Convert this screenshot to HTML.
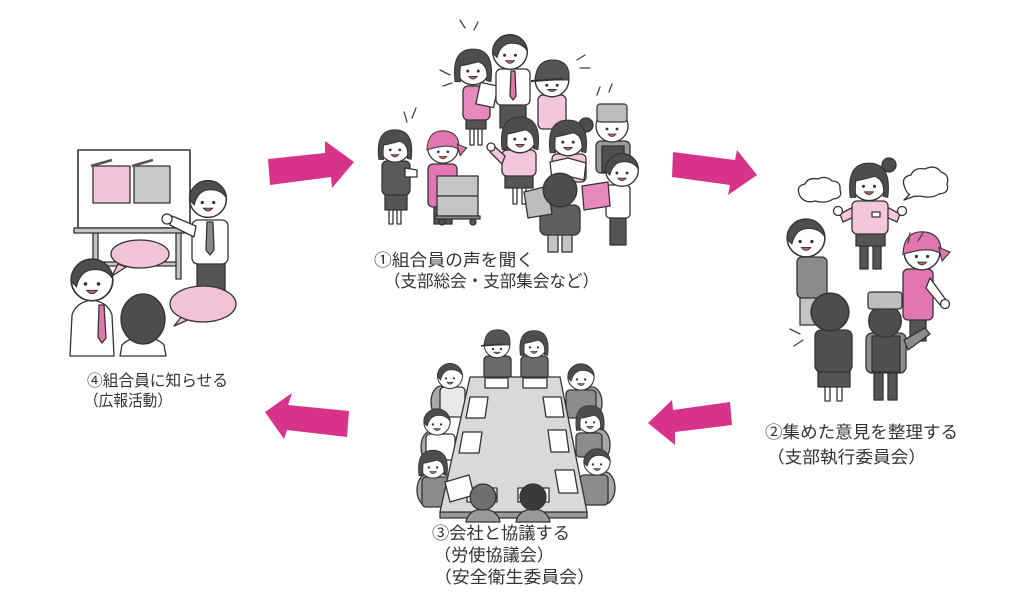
<!DOCTYPE html>
<html><head><meta charset="utf-8"><style>
html,body{margin:0;padding:0;background:#fff;}
svg{display:block;}
text{font-family:"Noto Sans CJK JP","Liberation Sans",sans-serif;fill:#333;}
.o{stroke:#333;stroke-width:1.3;stroke-linejoin:round;}
.t{stroke:#444;stroke-width:1.3;fill:none;stroke-linecap:round;}
</style></head><body>
<svg width="1024" height="602" viewBox="0 0 1024 602" xmlns="http://www.w3.org/2000/svg">
<defs>
 <g id="hm">
  <circle r="16" fill="#fff" stroke="#333" stroke-width="1.3"/>
  <path d="M-16,1 A16,16 0 0 1 16,-1 Q11,-9 0,-8 Q-9,-7 -12,5 Z" fill="#4d4d4d" stroke="#333" stroke-width="1"/>
  <circle cx="-5" cy="3" r="1.4" fill="#333"/><circle cx="5" cy="3" r="1.4" fill="#333"/>
  <path d="M-4,8 Q0,13 4,8 Z" fill="#c66" stroke="#333" stroke-width="0.8"/>
 </g>
 <g id="hf">
  <circle r="16" fill="#fff" stroke="#333" stroke-width="1.3"/>
  <path d="M-17,13 Q-21,-18 0,-18 Q21,-18 17,13 L13,12 Q15,-3 5,-6 Q-6,-3 -12,-2 Q-13,6 -12,13 Z" fill="#4d4d4d" stroke="#333" stroke-width="1"/>
  <circle cx="-5" cy="3" r="1.4" fill="#333"/><circle cx="5" cy="3" r="1.4" fill="#333"/>
  <path d="M-4,8 Q0,13 4,8 Z" fill="#c66" stroke="#333" stroke-width="0.8"/>
 </g>
 <g id="hp">
  <circle r="16" fill="#fff" stroke="#333" stroke-width="1.3"/>
  <path d="M-17,2 Q-16,-19 1,-18 Q18,-17 17,2 Q8,-6 -17,2 Z" fill="#e276b0" stroke="#333" stroke-width="1"/>
  <path d="M15,-4 L25,0 L18,8 Z" fill="#e276b0" stroke="#333" stroke-width="1"/>
  <circle cx="-5" cy="4" r="1.4" fill="#333"/><circle cx="5" cy="4" r="1.4" fill="#333"/>
  <path d="M-4,9 Q0,14 4,9 Z" fill="#c66" stroke="#333" stroke-width="0.8"/>
 </g>
 <g id="hc">
  <circle r="16" fill="#fff" stroke="#333" stroke-width="1.3"/>
  <path d="M-16,0 Q-15,-20 2,-19 Q18,-18 16,0 Z" fill="#555" stroke="#333" stroke-width="1"/>
  <path d="M-20,1 L10,-1" stroke="#333" stroke-width="2"/>
  <circle cx="-5" cy="5" r="1.4" fill="#333"/><circle cx="5" cy="5" r="1.4" fill="#333"/>
  <path d="M-4,9 Q0,13 4,9 Z" fill="#c66" stroke="#333" stroke-width="0.8"/>
 </g>
 <g id="hk">
  <circle r="16" fill="#fff" stroke="#333" stroke-width="1.3"/>
  <rect x="-15" y="-22" width="30" height="18" rx="3" fill="#bdbdbd" stroke="#333" stroke-width="1.2"/>
  <circle cx="-5" cy="3" r="1.4" fill="#333"/><circle cx="5" cy="3" r="1.4" fill="#333"/>
  <path d="M-4,8 Q0,13 4,8 Z" fill="#c66" stroke="#333" stroke-width="0.8"/>
 </g>
 <g id="hb">
  <circle r="16" fill="#4d4d4d" stroke="#333" stroke-width="1.3"/>
 </g>
</defs>

<!-- ===== Arrows ===== -->
<g fill="#d8338b">
 <polygon points="268,159 325,153 325,141 354,162 332,188 331,177 270,185"/>
 <polygon points="673,152 735,160 737,150 757,175 728,195 730,185 672,177"/>
 <polygon points="648,423 672,400 673,410 730,402 732,425 675,432 675,445"/>
 <polygon points="265,412 292,393 288,405 349,411 347,437 287,430 284,439"/>
</g>

<!-- ===== Scene 4 (left) ===== -->
<g class="o">
 <rect x="78" y="150" width="112" height="78" fill="#fff" stroke-width="1.6"/>
 <rect x="93" y="166" width="37" height="37" fill="#f2c3d6"/>
 <rect x="134" y="166" width="36" height="37" fill="#c9c9c9"/>
 <rect x="93" y="233" width="5" height="50" fill="#c4c4c4"/>
 <rect x="176" y="233" width="5" height="46" fill="#c4c4c4"/>
 <rect x="98" y="262" width="78" height="4" fill="#c4c4c4"/>
 <rect x="74" y="228" width="124" height="5" fill="#c4c4c4"/>
</g>
<path d="M91,166 L112,160 M132,166 L153,160" stroke="#555" stroke-width="2.5"/>
<g class="o">
 <rect x="197" y="262" width="28" height="32" fill="#555"/>
 <rect x="192" y="220" width="36" height="44" rx="6" fill="#fff"/>
 <polygon points="196,226 172,216 170,225 194,237" fill="#fff"/>
 <circle cx="167" cy="219" r="5" fill="#fff"/>
 <polygon points="207,222 213,222 214,250 210,255 206,250" fill="#888"/>
</g>
<use href="#hm" transform="translate(208,199) scale(1.15)"/>
<g class="o" fill="#f2c3d6">
 <path d="M118,264 L112,276 L126,267 Z"/>
 <ellipse cx="140" cy="254" rx="29" ry="14"/>
 <path d="M182,316 L174,326 L190,319 Z"/>
 <ellipse cx="203" cy="304" rx="33" ry="18"/>
</g>
<g class="o">
 <path d="M70,356 L72,315 Q76,302 92,300 Q108,302 112,315 L114,356 Z" fill="#fff"/>
 <polygon points="99,305 104,305 106,338 102,343 98,337" fill="#e276b0"/>
</g>
<use href="#hm" transform="translate(92,280) scale(1.3)"/>
<g class="o">
 <path d="M120,356 L122,345 Q128,338 143,337 Q158,338 164,345 L166,356 Z" fill="#fff"/>
 <ellipse cx="143" cy="319" rx="22" ry="25" fill="#4d4d4d"/>
</g>

<!-- ===== Scene 1 (top center) ===== -->
<g class="o">
 <!-- D -->
 <rect x="470" y="125" width="4" height="20" fill="#fff"/><rect x="478" y="125" width="4" height="20" fill="#fff"/>
 <rect x="466" y="117" width="20" height="12" fill="#555"/>
 <rect x="463" y="86" width="27" height="34" rx="5" fill="#e889bb"/>
 <rect x="478" y="84" width="18" height="22" fill="#fff" transform="rotate(12 487 95)"/>
 <!-- E -->
 <rect x="500" y="102" width="26" height="26" fill="#555"/>
 <rect x="496" y="69" width="34" height="36" rx="5" fill="#fff"/>
 <polygon points="511,71 515,71 516,96 513,100 510,96" fill="#e276b0"/>
 <!-- F -->
 <rect x="538" y="95" width="28" height="34" rx="5" fill="#f4c6da"/>
</g>
<use href="#hf" transform="translate(473,68) scale(1.05)"/>
<use href="#hm" transform="translate(510,52) scale(1.08)"/>
<use href="#hc" transform="translate(552,80) scale(1.05)"/>
<g class="o">
 <!-- I cook -->
 <rect x="596" y="141" width="34" height="32" rx="5" fill="#9a9a9a"/>
 <rect x="602" y="146" width="22" height="26" fill="#4f4f4f"/>
 <!-- G -->
 <rect x="513" y="186" width="4" height="18" fill="#fff"/><rect x="522" y="186" width="4" height="18" fill="#fff"/>
 <rect x="505" y="172" width="28" height="16" fill="#555"/>
 <rect x="502" y="150" width="34" height="26" rx="5" fill="#f4c6da"/>
 <polygon points="505,156 494,146 490,152 502,164" fill="#f4c6da"/>
 <circle cx="491" cy="147" r="4" fill="#fff"/>
 <!-- H -->
 <rect x="552" y="154" width="34" height="28" rx="5" fill="#f4c6da"/>
 <polygon points="550,162 568,158 586,163 584,180 567,176 552,180" fill="#fff"/>
 <circle cx="586" cy="125" r="7" fill="#4d4d4d"/>
</g>
<use href="#hk" transform="translate(612,126) scale(1)"/>
<use href="#hf" transform="translate(520,136) scale(1.05)"/>
<use href="#hf" transform="translate(568,139) scale(1.05)"/>
<g class="o">
 <!-- A woman left -->
 <rect x="389" y="208" width="4" height="16" fill="#fff"/><rect x="397" y="208" width="4" height="16" fill="#fff"/>
 <rect x="385" y="192" width="22" height="18" fill="#555"/>
 <rect x="382" y="161" width="28" height="34" rx="5" fill="#5a5a5a"/>
 <polygon points="405,168 417,170 417,177 405,177" fill="#fff"/>
 <!-- B bandana -->
 <rect x="434" y="204" width="7" height="20" fill="#555"/><rect x="445" y="204" width="7" height="20" fill="#555"/>
 <rect x="428" y="164" width="29" height="43" rx="5" fill="#e276b0"/>
 <!-- cart -->
 <rect x="437" y="176" width="41" height="20" fill="#c4c4c4"/>
 <rect x="437" y="196" width="41" height="20" fill="#c4c4c4"/>
 <rect x="435" y="216" width="45" height="3" fill="#888"/>
 <circle cx="442" cy="222" r="3" fill="#555"/><circle cx="473" cy="222" r="3" fill="#555"/>
</g>
<use href="#hf" transform="translate(395,147) scale(0.95)"/>
<use href="#hp" transform="translate(443,148) scale(0.95)"/>
<g class="o">
 <!-- J back man -->
 <rect x="548" y="232" width="10" height="20" fill="#c4c4c4"/><rect x="562" y="232" width="10" height="20" fill="#c4c4c4"/>
 <rect x="540" y="205" width="40" height="30" rx="6" fill="#5f5f5f"/>
 <polygon points="524,192 548,186 552,214 528,218" fill="#bdbdbd"/>
 <!-- K right man -->
 <rect x="610" y="215" width="16" height="30" fill="#555"/>
 <rect x="606" y="185" width="24" height="33" rx="4" fill="#fff"/>
 <polygon points="582,186 608,182 610,206 584,210" fill="#e889bb"/>
</g>
<use href="#hb" transform="translate(560,190) scale(1.05)"/>
<use href="#hm" transform="translate(622,170) scale(1.02)"/>
<g class="t">
 <path d="M404,112 L407,122 M416,108 L412,118 M440,70 L450,75 M443,86 L452,83 M577,60 L585,55 M580,68 L590,68 M597,95 L600,87 M609,92 L612,84 M460,20 L465,28 M478,22 L474,30"/>
</g>

<!-- ===== Scene 2 (right) ===== -->
<g class="o" fill="#fff">
 <path d="M800,196 Q795,186 805,184 Q808,177 818,179 Q826,175 832,181 Q841,181 840,190 Q843,198 833,199 Q826,204 815,201 Q805,204 800,196 Z"/>
 <path d="M905,188 Q900,177 911,175 Q914,167 925,169 Q935,164 941,172 Q950,175 947,184 Q950,193 939,194 Q931,199 920,196 Q908,198 905,188 Z"/>
 <path d="M910,194 L904,200 L915,196"/>
</g>
<g class="o">
 <rect x="860" y="244" width="8" height="25" fill="#555"/><rect x="873" y="244" width="8" height="25" fill="#555"/>
 <rect x="856" y="231" width="29" height="15" fill="#555"/>
 <polygon points="855,206 840,214 843,222 856,216" fill="#f4c6da"/>
 <polygon points="885,206 900,214 897,222 884,216" fill="#f4c6da"/>
 <rect x="852" y="201" width="36" height="33" rx="5" fill="#f4c6da"/>
 <rect x="872" y="212" width="8" height="5" fill="#fff"/>
 <circle cx="838" cy="211" r="4.5" fill="#fff"/><circle cx="902" cy="211" r="4.5" fill="#fff"/>
 <circle cx="889" cy="165" r="7" fill="#4d4d4d"/>
</g>
<use href="#hf" transform="translate(869,183) scale(1.1)"/>
<g class="o">
 <rect x="800" y="295" width="22" height="30" fill="#c4c4c4"/>
 <rect x="797" y="257" width="30" height="41" rx="5" fill="#8c8c8c"/>
 <rect x="910" y="317" width="16" height="24" fill="#555"/>
 <rect x="903" y="269" width="30" height="51" rx="5" fill="#e276b0"/>
 <polygon points="930,278 946,300 941,306 926,288" fill="#fff"/>
 <circle cx="945" cy="304" r="4.5" fill="#fff"/>
</g>
<use href="#hm" transform="translate(806,238) scale(1.18)"/>
<use href="#hp" transform="translate(922,252) scale(1.12)"/>
<g class="o">
 <rect x="825" y="385" width="5" height="16" fill="#fff"/><rect x="837" y="385" width="5" height="16" fill="#fff"/>
 <rect x="818" y="368" width="32" height="19" fill="#555"/>
 <rect x="815" y="330" width="37" height="42" rx="6" fill="#4f4f4f"/>
 <rect x="874" y="370" width="9" height="30" fill="#555"/><rect x="888" y="370" width="9" height="30" fill="#555"/>
 <rect x="866" y="333" width="40" height="40" rx="6" fill="#8c8c8c"/>
 <rect x="872" y="336" width="28" height="36" fill="#4f4f4f"/>
 <polygon points="904,340 925,328 930,334 908,350" fill="#8c8c8c"/>
</g>
<use href="#hb" transform="translate(830,312) scale(1.18)"/>
<use href="#hb" transform="translate(885,321) scale(1.02)"/>
<rect x="868" y="292" width="34" height="17" rx="3" fill="#bdbdbd" class="o"/>
<g class="t">
 <path d="M790,329 L800,334 M794,346 L803,340 M908,243 L910,233 M918,241 L923,233"/>
</g>

<!-- ===== Scene 3 (table) ===== -->
<g class="o" fill="#a8a8a8">
 <ellipse cx="441" cy="402" rx="10" ry="16"/>
 <ellipse cx="431" cy="447" rx="10" ry="16"/>
 <ellipse cx="427" cy="490" rx="10" ry="16"/>
 <ellipse cx="592" cy="403" rx="10" ry="16"/>
 <ellipse cx="600" cy="445" rx="10" ry="16"/>
 <ellipse cx="605" cy="488" rx="10" ry="16"/>
</g>
<g class="o">
 <rect x="484" y="356" width="27" height="26" rx="4" fill="#6a6a6a"/>
 <rect x="521" y="356" width="27" height="26" rx="4" fill="#6a6a6a"/>
 <rect x="440" y="387" width="25" height="30" rx="4" fill="#e8e8e8"/>
 <rect x="426" y="434" width="29" height="26" rx="4" fill="#fff"/>
 <rect x="422" y="477" width="29" height="30" rx="4" fill="#8c8c8c"/>
 <rect x="566" y="390" width="30" height="28" rx="4" fill="#8c8c8c"/>
 <rect x="576" y="433" width="26" height="24" rx="4" fill="#8c8c8c"/>
 <rect x="580" y="475" width="28" height="30" rx="4" fill="#8c8c8c"/>
</g>
<use href="#hc" transform="translate(497,345) scale(0.8)"/>
<use href="#hf" transform="translate(534,345) scale(0.8)"/>
<use href="#hm" transform="translate(450,376) scale(0.78)"/>
<use href="#hm" transform="translate(437,422) scale(0.82)"/>
<use href="#hf" transform="translate(433,465) scale(0.82)"/>
<use href="#hm" transform="translate(581,377) scale(0.82)"/>
<use href="#hf" transform="translate(590,420) scale(0.8)"/>
<use href="#hm" transform="translate(597,462) scale(0.82)"/>
<g class="o">
 <polygon points="440,512 587,512 587,518 440,518" fill="#9a9a9a"/>
 <polygon points="470,377 560,377 587,512 440,512" fill="#d9d9d9"/>
</g>
<g class="o" fill="#fff" stroke-width="1">
 <rect x="485" y="378" width="23" height="10"/>
 <rect x="523" y="378" width="24" height="10"/>
 <polygon points="470,397 488,397 485,418 466,418"/>
 <polygon points="463,432 482,432 479,453 459,453"/>
 <polygon points="543,397 561,397 564,417 546,417"/>
 <polygon points="548,430 566,430 569,452 551,452"/>
 <polygon points="555,470 574,470 578,493 559,493"/>
 <rect x="467" y="488" width="30" height="14"/>
 <rect x="518" y="488" width="31" height="14"/>
 <polygon points="445,482 469,475 474,495 450,502"/>
</g>
<g class="o">
 <path d="M466,522 Q468,510 483,509 Q498,510 500,522 Z" fill="#9a9a9a"/>
 <path d="M516,522 Q518,510 533,509 Q548,510 550,522 Z" fill="#9a9a9a"/>
 <circle cx="483" cy="497" r="13" fill="#707070"/>
 <circle cx="533" cy="497" r="13" fill="#3a3a3a"/>
</g>

<!-- ===== Labels ===== -->
<text x="374" y="266" font-size="17" textLength="160" lengthAdjust="spacingAndGlyphs">①組合員の声を聞く</text>
<text x="384" y="287" font-size="17" textLength="215" lengthAdjust="spacingAndGlyphs">（支部総会・支部集会など）</text>

<text x="87" y="386" font-size="16" textLength="141" lengthAdjust="spacingAndGlyphs">④組合員に知らせる</text>
<text x="84" y="406" font-size="16" textLength="88" lengthAdjust="spacingAndGlyphs">（広報活動）</text>

<text x="765" y="438" font-size="17" textLength="193" lengthAdjust="spacingAndGlyphs">②集めた意見を整理する</text>
<text x="767" y="463" font-size="17" textLength="159" lengthAdjust="spacingAndGlyphs">（支部執行委員会）</text>

<text x="432" y="539" font-size="17" textLength="138" lengthAdjust="spacingAndGlyphs">③会社と協議する</text>
<text x="434" y="561" font-size="17" textLength="120" lengthAdjust="spacingAndGlyphs">（労使協議会）</text>
<text x="434" y="583" font-size="17" textLength="161" lengthAdjust="spacingAndGlyphs">（安全衛生委員会）</text>
</svg>
</body></html>
